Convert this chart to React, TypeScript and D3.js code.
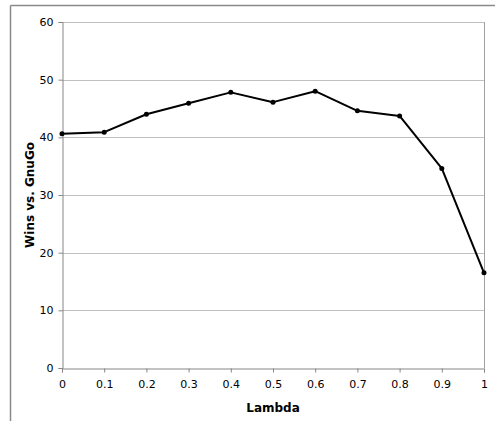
import React, { useEffect, useRef } from 'react';
import * as d3 from 'd3';

const lambdas = [0, 0.1, 0.2, 0.3, 0.4, 0.5, 0.6, 0.7, 0.8, 0.9, 1];
const wins = [40.6, 40.9, 44.0, 45.9, 47.8, 46.1, 48.0, 44.6, 43.7, 34.6, 16.5];
const xTicks = [0, 0.1, 0.2, 0.3, 0.4, 0.5, 0.6, 0.7, 0.8, 0.9, 1];
const yTicks = [0, 10, 20, 30, 40, 50, 60];

const WinsChart: React.FC = () => {
    const svgRef = useRef<SVGSVGElement>(null);

    useEffect(() => {
        const svg = d3.select(svgRef.current);
        svg.selectAll('*').remove();

        const margin = { top: 22, right: 11, bottom: 53, left: 62 };
        const width = 495 - margin.left - margin.right;
        const height = 421 - margin.top - margin.bottom;
        const font = 'Verdana, "DejaVu Sans", sans-serif';

        // outer frame (only top and left visible)
        svg.append('line').attr('x1', 10.5).attr('x2', 495).attr('y1', 5.5).attr('y2', 5.5)
            .attr('stroke', '#8a8a8a').attr('stroke-width', 1.5);
        svg.append('line').attr('x1', 10.5).attr('x2', 10.5).attr('y1', 5.5).attr('y2', 421)
            .attr('stroke', '#8a8a8a').attr('stroke-width', 1.5);

        const g = svg.append('g').attr('transform', `translate(${margin.left}, ${margin.top})`);

        const x = d3.scaleLinear().domain([0, 1]).range([0, width]);
        const y = d3.scaleLinear().domain([0, 60]).range([height, 0]);

        // gridlines
        g.selectAll('.grid').data(yTicks.filter(t => t > 0)).enter().append('line')
            .attr('x1', 0).attr('x2', width)
            .attr('y1', d => Math.round(y(d)) + 0.5).attr('y2', d => Math.round(y(d)) + 0.5)
            .attr('stroke', '#c0c0c0');
        // right border
        g.append('line').attr('x1', width + 0.5).attr('x2', width + 0.5).attr('y1', 0).attr('y2', height)
            .attr('stroke', '#a0a0a0');

        const yAxis = g.append('g').attr('transform', 'translate(0.5,0)')
            .call(d3.axisLeft(y).tickValues(yTicks).tickSize(4).tickPadding(5).tickFormat(d3.format('d')));
        const xAxis = g.append('g').attr('transform', `translate(0,${height + 0.5})`)
            .call(d3.axisBottom(x).tickValues(xTicks).tickSize(4).tickPadding(8).tickFormat(d => String(d)));

        [yAxis, xAxis].forEach(a => {
            a.select('.domain').attr('stroke', '#868686');
            a.selectAll('.tick line').attr('stroke', '#868686');
            a.selectAll('.tick text').attr('fill', '#000').attr('font-size', 11).attr('font-family', font);
        });

        const line = d3.line<number>()
            .x((d, i) => x(lambdas[i]))
            .y(d => y(d));

        g.append('path').datum(wins)
            .attr('d', line)
            .attr('fill', 'none')
            .attr('stroke', '#000')
            .attr('stroke-width', 2)
            .attr('stroke-linejoin', 'round');

        g.selectAll('.dot').data(wins).enter().append('circle')
            .attr('cx', (d, i) => x(lambdas[i]))
            .attr('cy', d => y(d))
            .attr('r', 2.5)
            .attr('fill', '#000');

        svg.append('text')
            .attr('x', margin.left + width / 2)
            .attr('y', 412)
            .attr('text-anchor', 'middle')
            .attr('font-family', font)
            .attr('font-weight', 'bold')
            .attr('font-size', 12)
            .text('Lambda');

        svg.append('text')
            .attr('transform', `translate(34, ${margin.top + height / 2}) rotate(-90)`)
            .attr('text-anchor', 'middle')
            .attr('font-family', font)
            .attr('font-weight', 'bold')
            .attr('font-size', 12)
            .text('Wins vs. GnuGo');
    }, []);

    return (
        <svg ref={svgRef} width={495} height={421}
            style={{ position: 'absolute', left: 0, top: 0, display: 'block', background: '#fff' }} />
    );
};

export default function App() {
    return <WinsChart />;
}
